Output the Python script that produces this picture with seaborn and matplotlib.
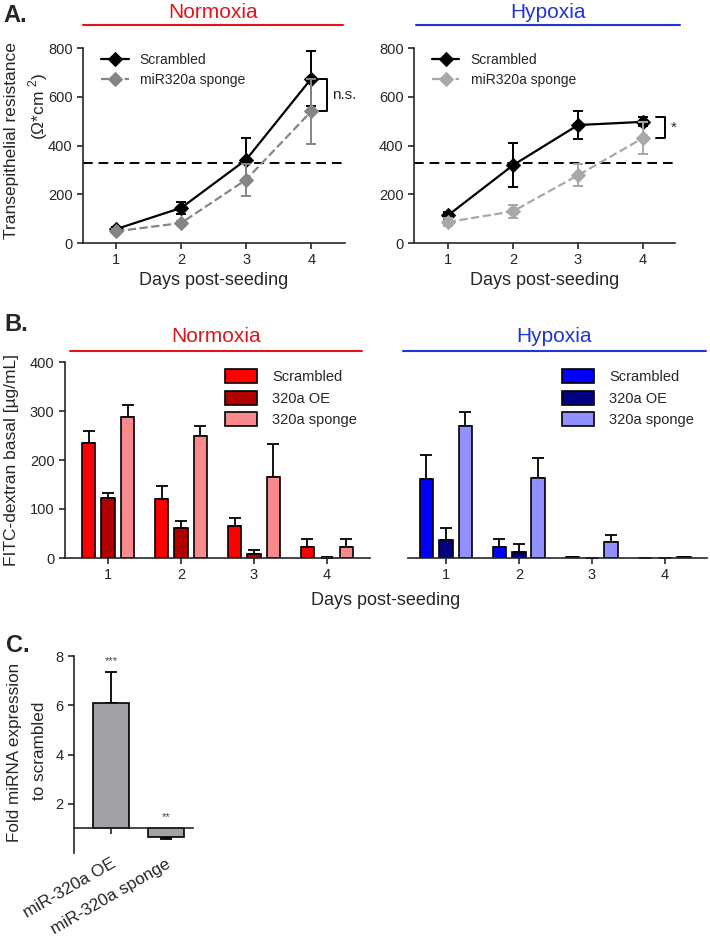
import numpy as np
import pandas as pd
import seaborn as sns
import matplotlib.pyplot as plt
from matplotlib.lines import Line2D

sns.set_style('ticks')
plt.rcParams['font.family'] = ['Liberation Sans', 'DejaVu Sans']
plt.rcParams['axes.linewidth'] = 1.2
plt.rcParams['xtick.major.width'] = 1.2
plt.rcParams['ytick.major.width'] = 1.2
plt.rcParams['xtick.labelsize'] = 10.5
plt.rcParams['ytick.labelsize'] = 10.5
plt.rcParams['mathtext.fontset'] = 'custom'
plt.rcParams['mathtext.rm'] = 'Liberation Sans'

# ---- data ----
days = [1, 2, 3, 4]
# A: transepithelial resistance
ter_norm_scr = [57, 144, 342, 674]
ter_norm_scr_err = [10, 23, 89, 112]
ter_norm_sp = [48, 82, 260, 540]
ter_norm_sp_err = [8, 10, 66, 132]
ter_hyp_scr = [113, 319, 484, 497]
ter_hyp_scr_err = [14, 91, 59, 19]
ter_hyp_sp = [86, 130, 278, 431]
ter_hyp_sp_err = [18, 27, 45, 66]
ter_threshold = 330

# B: FITC-dextran
groups = ['Scrambled', '320a OE', '320a sponge']
fitc_norm_scr = [235, 120, 66, 22]
fitc_norm_oe = [122, 61, 9, 1]
fitc_norm_sp = [287, 249, 166, 22]
fitc_norm_scr_err = [25, 26, 15, 17]
fitc_norm_oe_err = [10, 14, 8, 1]
fitc_norm_sp_err = [25, 20, 66, 17]
fitc_hyp_scr = [161, 22, 2, 1]
fitc_hyp_oe = [36, 12, 1, 1]
fitc_hyp_sp = [269, 163, 33, 2]
fitc_hyp_scr_err = [50, 17, 1, 0]
fitc_hyp_oe_err = [25, 16, 0, 0]
fitc_hyp_sp_err = [29, 41, 13, 1]

# C: fold expression
c_labels = ['miR-320a OE', 'miR-320a sponge']
c_values = [6.1, 0.63]
c_err_up = [1.26, 0]
c_err_down = [0, 0.05]
c_stars = ['***', '**']

norm_cols = ['#ff0000', '#b00000', '#f78a8c']
hyp_cols = ['#0000ff', '#000080', '#9090ff']

W, H = 710, 938
fig = plt.figure(figsize=(7.1, 9.38), dpi=100)


def box(x0, y0, x1, y1):
    return [x0 / W, 1 - y1 / H, (x1 - x0) / W, (y1 - y0) / H]


def header(text, color, x0, x1, yline, ytext):
    fig.add_artist(Line2D([x0 / W, x1 / W], [1 - yline / H, 1 - yline / H],
                          transform=fig.transFigure, color=color, lw=1.5))
    fig.text((x0 + x1) / 2 / W, 1 - ytext / H, text, color=color,
             fontsize=15, ha='center', va='center')


# ---- A ----
def ter_panel(ax, scr, scr_err, sp, sp_err, sp_col, xlim):
    sns.lineplot(x=days, y=scr, ax=ax, color='black', marker='D', ms=7,
                 mec='black', lw=1.6, label='Scrambled', zorder=3)
    ax.errorbar(days, scr, yerr=scr_err, fmt='none', ecolor='black',
                elinewidth=1.4, capsize=3.6, capthick=1.4, zorder=3)
    sns.lineplot(x=days, y=sp, ax=ax, color=sp_col, marker='D', ms=7,
                 mec=sp_col, lw=1.6, linestyle='--', label='miR320a sponge', zorder=4)
    ax.errorbar(days, sp, yerr=sp_err, fmt='none', ecolor=sp_col,
                elinewidth=1.4, capsize=3.6, capthick=1.4, zorder=4)
    ax.axhline(ter_threshold, color='black', ls=(0, (5, 3)), lw=1.4, zorder=2)
    ax.set_xlim(*xlim)
    ax.set_ylim(0, 800)
    ax.set_xticks(days)
    ax.set_yticks([0, 200, 400, 600, 800])
    ax.tick_params(length=4)
    sns.despine(ax=ax)
    ax.set_xlabel('Days post-seeding', fontsize=13, labelpad=3)
    ax.legend(loc='upper left', bbox_to_anchor=(0.02, 1.04), frameon=False,
              fontsize=10, handlelength=2.0, handletextpad=0.8, labelspacing=0.45)


axA1 = fig.add_axes(box(83, 48, 345, 243))
ter_panel(axA1, ter_norm_scr, ter_norm_scr_err, ter_norm_sp, ter_norm_sp_err,
          '#858585', (0.49, 4.52))
axA1.plot([4.12, 4.24, 4.24, 4.12], [674, 674, 540, 540], color='black', lw=1.4,
          clip_on=False)
axA1.text(4.32, 607, 'n.s.', fontsize=11, va='center', ha='left')

axA2 = fig.add_axes(box(414, 48, 675, 243))
ter_panel(axA2, ter_hyp_scr, ter_hyp_scr_err, ter_hyp_sp, ter_hyp_sp_err,
          '#a8a8a8', (0.48, 4.49))
axA2.plot([4.2, 4.33, 4.33, 4.2], [516, 516, 431, 431], color='black', lw=1.4,
          clip_on=False)
axA2.text(4.42, 474, '*', fontsize=11, va='center', ha='left')

header('Normoxia', '#e3141c', 83, 343, 25, 12)
header('Hypoxia', '#2034d8', 416, 680, 25, 12)
fig.text(12 / W, 1 - 141 / H, 'Transepithelial resistance', rotation=90,
         fontsize=12.5, ha='center', va='center')
fig.text(38 / W, 1 - 106 / H, r'($\Omega$*cm $^2$)', rotation=90,
         fontsize=12.5, ha='center', va='center')
fig.text(3 / W, 1 - 15 / H, 'A.', fontsize=17, fontweight='bold', va='center')


# ---- B ----
def fitc_panel(ax, vals, errs, cols, xlim, show_y):
    df = pd.DataFrame({
        'day': days * 3,
        'group': [g for g in groups for _ in days],
        'value': vals[0] + vals[1] + vals[2],
    })
    sns.barplot(data=df, x='day', y='value', hue='group', hue_order=groups,
                palette=cols, ax=ax, width=0.8, gap=0.3, errorbar=None,
                edgecolor='black', linewidth=1.2, saturation=1)
    for cont, e in zip(ax.containers, errs):
        xs = [b.get_x() + b.get_width() / 2 for b in cont]
        hs = [b.get_height() for b in cont]
        ax.errorbar(xs, hs, yerr=[np.zeros(len(e)), e], fmt='none', ecolor='black',
                    elinewidth=1.3, capsize=4, capthick=1.3, zorder=0)
    ax.set_xlim(*xlim)
    ax.set_ylim(0, 400)
    ax.set_xlabel('')
    ax.set_ylabel('')
    ax.tick_params(axis='x', length=4)
    if show_y:
        ax.set_yticks([0, 100, 200, 300, 400])
        ax.tick_params(axis='y', length=4)
        sns.despine(ax=ax)
    else:
        ax.set_yticks([])
        sns.despine(ax=ax, left=True)
    ax.legend(loc='upper right', bbox_to_anchor=(1.0, 1.03), frameon=False,
              fontsize=10.5, handlelength=2.2, handleheight=1.1,
              handletextpad=1.0, labelspacing=0.45)


axB1 = fig.add_axes(box(65, 362, 370, 558))
fitc_panel(axB1, [fitc_norm_scr, fitc_norm_oe, fitc_norm_sp],
           [fitc_norm_scr_err, fitc_norm_oe_err, fitc_norm_sp_err],
           norm_cols, (-0.59, 3.59), True)
axB2 = fig.add_axes(box(408, 362, 707, 558))
fitc_panel(axB2, [fitc_hyp_scr, fitc_hyp_oe, fitc_hyp_sp],
           [fitc_hyp_scr_err, fitc_hyp_oe_err, fitc_hyp_sp_err],
           hyp_cols, (-0.52, 3.58), False)

header('Normoxia', '#e3141c', 70, 362, 351, 337)
header('Hypoxia', '#2034d8', 403, 706, 351, 337)
fig.text(386 / W, 1 - 600 / H, 'Days post-seeding', fontsize=13,
         ha='center', va='center')
fig.text(12 / W, 1 - 460 / H, 'FITC-dextran basal [µg/mL]', rotation=90,
         fontsize=12.5, ha='center', va='center')
fig.text(4 / W, 1 - 324 / H, 'B.', fontsize=17, fontweight='bold', va='center')

# ---- C ----
axC = fig.add_axes(box(74, 656, 193, 853))
dfc = pd.DataFrame({'label': c_labels, 'value': [v - 1 for v in c_values]})
sns.barplot(data=dfc, x='label', y='value', ax=axC, color='#a2a2a6',
            saturation=1, width=0.65, edgecolor='black', linewidth=1.2,
            errorbar=None, bottom=1)
cont = axC.containers[0]
xs = [b.get_x() + b.get_width() / 2 for b in cont]
axC.errorbar(xs, c_values, yerr=[c_err_down, c_err_up], fmt='none',
             ecolor='black', elinewidth=1.3, capsize=4, capthick=1.3, zorder=0)
for x, v, s, yy in zip(xs, c_values, c_stars, [7.8, 1.45]):
    axC.text(x, yy, s, ha='center', va='center', fontsize=8, color='#444444')
axC.set_xlim(-0.67, 1.49)
axC.set_ylim(0, 8)
axC.set_yticks([2, 4, 6, 8])
axC.set_xlabel('')
axC.set_ylabel('')
sns.despine(ax=axC)
axC.spines['bottom'].set_position(('data', 1))
axC.tick_params(axis='y', length=4)
axC.tick_params(axis='x', length=4, pad=16)
plt.setp(axC.get_xticklabels(), rotation=30, ha='right', rotation_mode='anchor',
         fontsize=12.3)
fig.text(15 / W, 1 - 752 / H, 'Fold miRNA expression', rotation=90,
         fontsize=12.3, ha='center', va='center')
fig.text(39 / W, 1 - 751 / H, 'to scrambled', rotation=90,
         fontsize=12.3, ha='center', va='center')
fig.text(6 / W, 1 - 645 / H, 'C.', fontsize=17, fontweight='bold', va='center')

fig.savefig('out.png', dpi=100)
